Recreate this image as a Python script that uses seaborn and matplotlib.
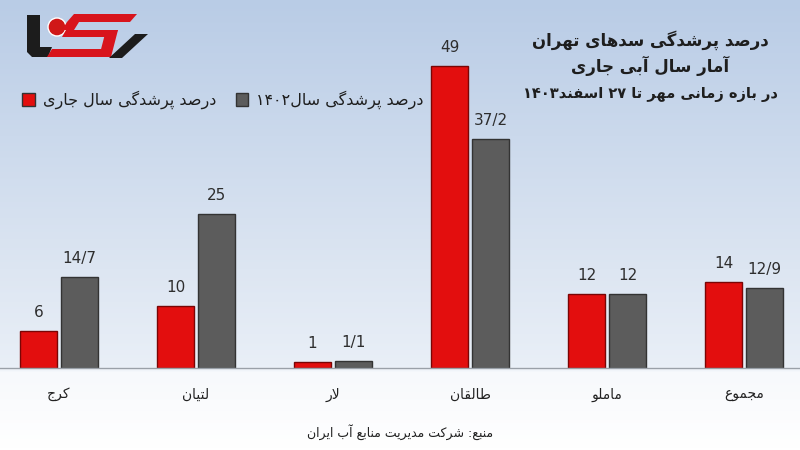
import re
import numpy as np
import pandas as pd
import matplotlib
matplotlib.use("Agg")
import matplotlib.pyplot as plt
import seaborn as sns
from matplotlib.colors import LinearSegmentedColormap
from matplotlib.patches import Patch, Polygon, Circle

# داده‌ها
sadha = ["کرج", "لتیان", "لار", "طالقان", "ماملو", "مجموع"]
sal_jari = [6, 10, 1, 49, 12, 14]
sal_1402 = [14.7, 25, 1.1, 37.2, 12, 12.9]
serie_ha = ["درصد پرشدگی سال جاری", "درصد پرشدگی سال۱۴۰۲"]
onvan = ["درصد پرشدگی سدهای تهران", "آمار سال آبی جاری", "در بازه زمانی مهر تا ۲۷ اسفند۱۴۰۳"]
manba = "منبع: شرکت مدیریت منابع آب ایران"

rang_ha = ["#e30e0e", "#5c5c5c"]

# شکل‌دهی حروف فارسی (matplotlib خودش این کار را نمی‌کند)
FORMS = {
    "ا": ("\uFE8D", "\uFE8E"), "آ": ("\uFE81", "\uFE82"),
    "د": ("\uFEA9", "\uFEAA"), "ر": ("\uFEAD", "\uFEAE"),
    "ز": ("\uFEAF", "\uFEB0"), "و": ("\uFEED", "\uFEEE"),
    "ب": ("\uFE8F", "\uFE90", "\uFE91", "\uFE92"),
    "ت": ("\uFE95", "\uFE96", "\uFE97", "\uFE98"),
    "ج": ("\uFE9D", "\uFE9E", "\uFE9F", "\uFEA0"),
    "س": ("\uFEB1", "\uFEB2", "\uFEB3", "\uFEB4"),
    "ش": ("\uFEB5", "\uFEB6", "\uFEB7", "\uFEB8"),
    "ص": ("\uFEB9", "\uFEBA", "\uFEBB", "\uFEBC"),
    "ط": ("\uFEC1", "\uFEC2", "\uFEC3", "\uFEC4"),
    "ع": ("\uFEC9", "\uFECA", "\uFECB", "\uFECC"),
    "ف": ("\uFED1", "\uFED2", "\uFED3", "\uFED4"),
    "ق": ("\uFED5", "\uFED6", "\uFED7", "\uFED8"),
    "ل": ("\uFEDD", "\uFEDE", "\uFEDF", "\uFEE0"),
    "م": ("\uFEE1", "\uFEE2", "\uFEE3", "\uFEE4"),
    "ن": ("\uFEE5", "\uFEE6", "\uFEE7", "\uFEE8"),
    "ه": ("\uFEE9", "\uFEEA", "\uFEEB", "\uFEEC"),
    "ی": ("\uFBFC", "\uFBFD", "\uFBFE", "\uFBFF"),
    "پ": ("\uFB56", "\uFB57", "\uFB58", "\uFB59"),
    "ک": ("\uFB8E", "\uFB8F", "\uFB90", "\uFB91"),
    "گ": ("\uFB92", "\uFB93", "\uFB94", "\uFB95"),
}
LAM_ALEF = {"ا": ("\uFEFB", "\uFEFC"), "آ": ("\uFEF5", "\uFEF6")}


def vasl_chap(c):
    return c in FORMS and len(FORMS[c]) == 4


def farsi(matn):
    out = []
    i = 0
    n = len(matn)
    while i < n:
        c = matn[i]
        if c not in FORMS:
            out.append(c)
            i += 1
            continue
        az_ghabl = i > 0 and vasl_chap(matn[i - 1])
        if c == "ل" and i + 1 < n and matn[i + 1] in LAM_ALEF:
            out.append(LAM_ALEF[matn[i + 1]][1 if az_ghabl else 0])
            i += 2
            continue
        be_baad = vasl_chap(c) and i + 1 < n and matn[i + 1] in FORMS
        f = FORMS[c]
        if az_ghabl and be_baad:
            out.append(f[3])
        elif az_ghabl:
            out.append(f[1])
        elif be_baad:
            out.append(f[2])
        else:
            out.append(f[0])
        i += 1
    s = "".join(out[::-1])
    return re.sub(r"[0-9۰-۹]+", lambda m: m.group(0)[::-1], s)


df = pd.DataFrame({
    "sad": [farsi(s) for s in sadha] * 2,
    "darsad": sal_jari + sal_1402,
    "seri": [farsi(serie_ha[0])] * len(sadha) + [farsi(serie_ha[1])] * len(sadha),
})

sns.set_theme(style="white")
plt.rcParams["font.family"] = ["DejaVu Sans"]

fig = plt.figure(figsize=(8, 4.5), dpi=100)

# پس‌زمینه گرادیان (بالا آبی، پایین خط پایه سفید)
bg = fig.add_axes([0, 0, 1, 1], zorder=-10)
cmap = LinearSegmentedColormap.from_list("bg", [
    (0.0, "#b9cce6"), (0.3, "#cbd9ec"), (0.6, "#dde6f2"),
    (0.815, "#e9eff7"), (0.83, "#f7f9fc"), (1.0, "#ffffff")])
grad = np.linspace(0, 1, 450).reshape(-1, 1)
bg.imshow(grad, aspect="auto", cmap=cmap, extent=[0, 800, 450, 0])
bg.set_xlim(0, 800)
bg.set_ylim(450, 0)
bg.set_axis_off()

# لوگو (تقریبی)
bg.add_patch(Polygon([(27, 15), (40, 15), (40, 47), (52, 47), (48, 57), (32, 57), (27, 52)],
                     closed=True, facecolor="#1c1c1c", edgecolor="none"))
bg.add_patch(Circle((57, 27), 9, facecolor="#d01818", edgecolor="white", linewidth=1))
qermez = "#d8141c"
for pts in [
    [(74, 14), (137, 14), (130, 22), (67, 22)],
    [(67, 22), (79, 22), (74, 30), (62, 30)],
    [(66, 30), (118, 30), (114, 37), (62, 37)],
    [(106, 30), (118, 30), (111, 57), (99, 57)],
    [(52, 49), (111, 49), (108, 57), (47, 57)],
]:
    bg.add_patch(Polygon(pts, closed=True, facecolor=qermez, edgecolor="none"))
bg.add_patch(Polygon([(135, 34), (148, 34), (122, 58), (109, 58)],
                     closed=True, facecolor="#1c1c1c", edgecolor="none"))

ax = fig.add_axes([0, 1 - 368 / 450, 1, 328 / 450])
ax.set_facecolor("none")

sns.barplot(
    data=df, x="sad", y="darsad", hue="seri",
    palette=rang_ha, saturation=1, width=0.6, gap=0.1, ax=ax, legend=False,
    edgecolor="#333333", linewidth=1,
)
for bar in ax.containers[0]:
    bar.set_edgecolor("#7a0505")

for cont in ax.containers:
    labels = [f"{b.get_height():g}".replace(".", "/") for b in cont]
    ax.bar_label(cont, labels=labels, padding=8, fontsize=11, color="#2e2e2e")

ax.set_xlim(-59 / 137, (800 - 59) / 137)
ax.set_ylim(0, 328 / (302 / 49))
ax.set_xlabel("")
ax.set_ylabel("")
ax.set_yticks([])
ax.tick_params(axis="x", length=0, pad=14, labelsize=10, labelcolor="#222222")
for s in ["top", "left", "right"]:
    ax.spines[s].set_visible(False)
ax.spines["bottom"].set_color("#9aa0a8")
ax.spines["bottom"].set_linewidth(1)

# عنوان
for yy, t, fs in zip([40, 66, 95], onvan, [12, 12, 10.5]):
    fig.text(650 / 800, 1 - yy / 450, farsi(t), ha="center", va="center",
             fontsize=fs, fontweight="bold", color="#1e1e1e")

# راهنما
handles = [Patch(facecolor=rang_ha[i], edgecolor="#333333") for i in range(2)]
fig.legend(handles, [farsi(s) for s in serie_ha], loc="center left",
           bbox_to_anchor=(0.01, 1 - 100 / 450), ncol=2, frameon=False,
           fontsize=11.5, handlelength=0.8, handleheight=0.8,
           handletextpad=0.5, columnspacing=1.2, labelcolor="#1e1e1e")

# منبع
fig.text(0.5, 1 - 432 / 450, farsi(manba), ha="center", va="center",
         fontsize=9, color="#222222")

fig.savefig("out.png", dpi=100)
